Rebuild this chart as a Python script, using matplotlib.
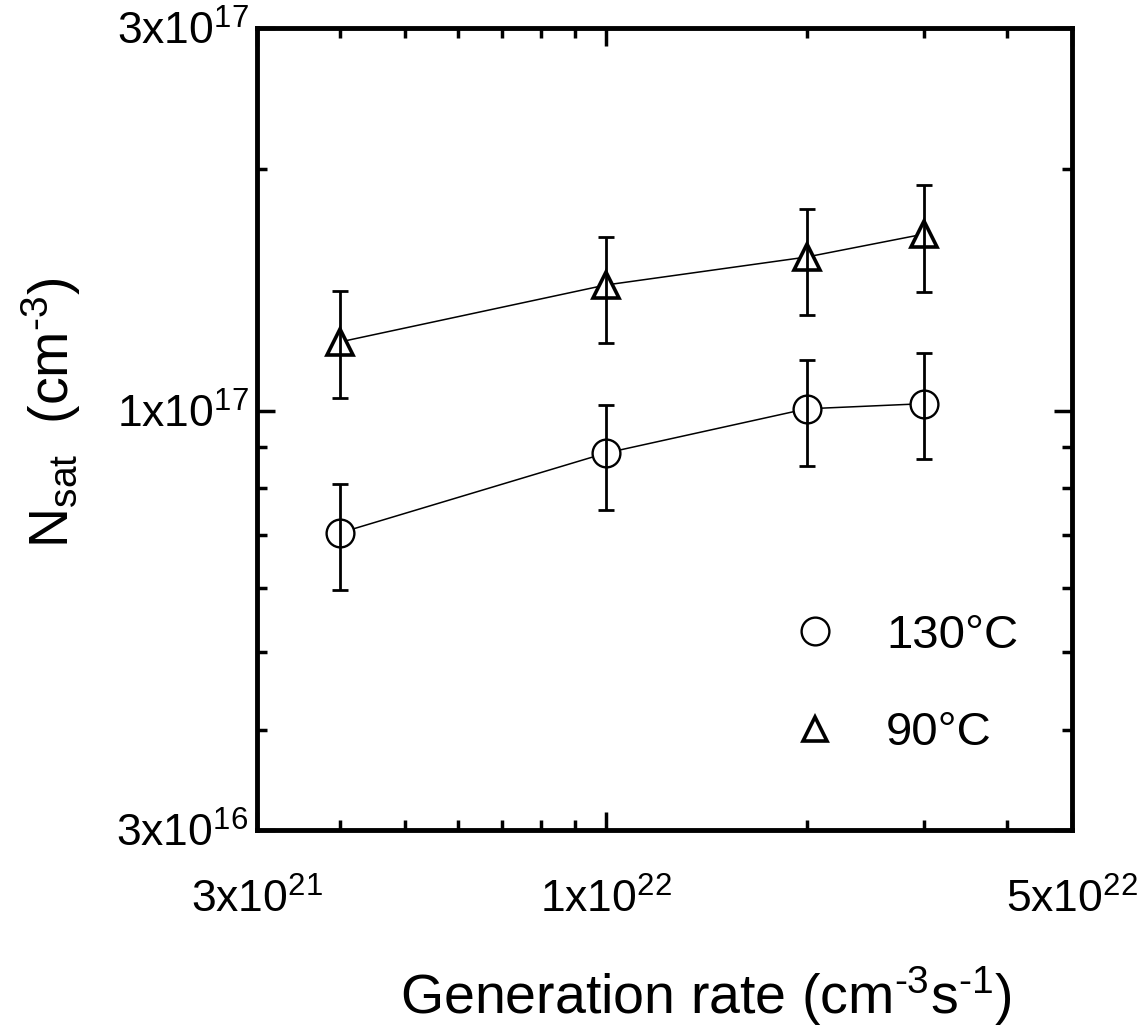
import matplotlib
matplotlib.use('Agg')
import matplotlib.pyplot as plt
from matplotlib.lines import Line2D
from matplotlib.ticker import NullFormatter
import numpy as np

plt.rcParams['font.family'] = 'Liberation Sans'
plt.rcParams['mathtext.fontset'] = 'custom'
plt.rcParams['mathtext.rm'] = 'Liberation Sans'
plt.rcParams['mathtext.it'] = 'Liberation Sans:italic'
plt.rcParams['mathtext.default'] = 'regular'

# generation rate (cm^-3 s^-1)
gen_rate = [4e21, 1e22, 2e22, 3e22]

# N_sat at 130 C, with error bar ends
nsat_130 = [7.04e16, 8.85e16, 1.005e17, 1.02e17]
lo_130 = [5.97e16, 7.52e16, 8.53e16, 8.70e16]
hi_130 = [8.10e16, 1.016e17, 1.156e17, 1.18e17]

# N_sat at 90 C, with error bar ends
nsat_90 = [1.218e17, 1.434e17, 1.554e17, 1.66e17]
lo_90 = [1.037e17, 1.214e17, 1.316e17, 1.405e17]
hi_90 = [1.41e17, 1.646e17, 1.784e17, 1.911e17]

x_major = [3e21, 1e22, 5e22]
x_major_labels = [r'3x10$^{21}$', r'1x10$^{22}$', r'5x10$^{22}$']
x_minor = [4e21, 5e21, 6e21, 7e21, 8e21, 9e21, 2e22, 3e22, 4e22]
y_major = [3e16, 1e17, 3e17]
y_major_labels = [r'3x10$^{16}$', r'1x10$^{17}$', r'3x10$^{17}$']
y_minor = [4e16, 5e16, 6e16, 7e16, 8e16, 9e16, 2e17]

fig = plt.figure(figsize=(11.47, 10.36), dpi=100)
ax = fig.add_axes([0.224, 0.199, 0.7106, 0.774])
ax.set_xscale('log')
ax.set_yscale('log')

for y, lo, hi, mk, ms, mew in [(nsat_130, lo_130, hi_130, 'o', 20, 1.7),
                               (nsat_90, lo_90, hi_90, '^', 19, 2.6)]:
    y = np.array(y)
    yerr = [y - np.array(lo), np.array(hi) - y]
    ax.plot(gen_rate, y, color='black', lw=1.1, zorder=1)
    ax.plot(gen_rate, y, ls='none', marker=mk, ms=ms, mfc='white',
            mec='black', mew=mew, zorder=2)
    ax.errorbar(gen_rate, y, yerr=yerr, fmt='none', ecolor='black',
                elinewidth=2.0, capsize=6, capthick=2.0, zorder=3)

ax.set_xlim(3e21, 5e22)
ax.set_ylim(3e16, 3e17)

ax.set_xticks(x_major, x_major_labels, fontsize=32)
ax.set_xticks(x_minor, minor=True)
ax.set_yticks(y_major, y_major_labels, fontsize=32)
ax.set_yticks(y_minor, minor=True)
ax.xaxis.set_minor_formatter(NullFormatter())
ax.yaxis.set_minor_formatter(NullFormatter())

ax.tick_params(which='both', direction='in', top=True, right=True, width=2.5)
ax.tick_params(which='major', length=13)
ax.tick_params(which='minor', length=7)
ax.tick_params(axis='x', which='major', pad=35)
ax.tick_params(axis='y', which='major', pad=6)
for s in ax.spines.values():
    s.set_linewidth(3.5)

ax.set_xlabel(r'Generation rate (cm$^{\text{-}3}$s$^{\text{-}1}$)', fontsize=40)
ax.xaxis.set_label_coords(0.551, -0.168)
ax.set_ylabel(r'N$_{sat}$  (cm$^{\text{-}3}$)', fontsize=40)
ax.yaxis.set_label_coords(-0.213, 0.52)

handles = [Line2D([], [], ls='none', marker='o', ms=20, mfc='white', mec='black', mew=1.7),
           Line2D([], [], ls='none', marker='^', ms=17, mfc='white', mec='black', mew=2.6)]
ax.legend(handles, ['130°C', '90°C'], loc='upper left', bbox_to_anchor=(0.633, 0.293),
          frameon=False, fontsize=34, handletextpad=1.0, labelspacing=1.13,
          handlelength=1.0, borderaxespad=0)

plt.savefig('out.png', dpi=100)
